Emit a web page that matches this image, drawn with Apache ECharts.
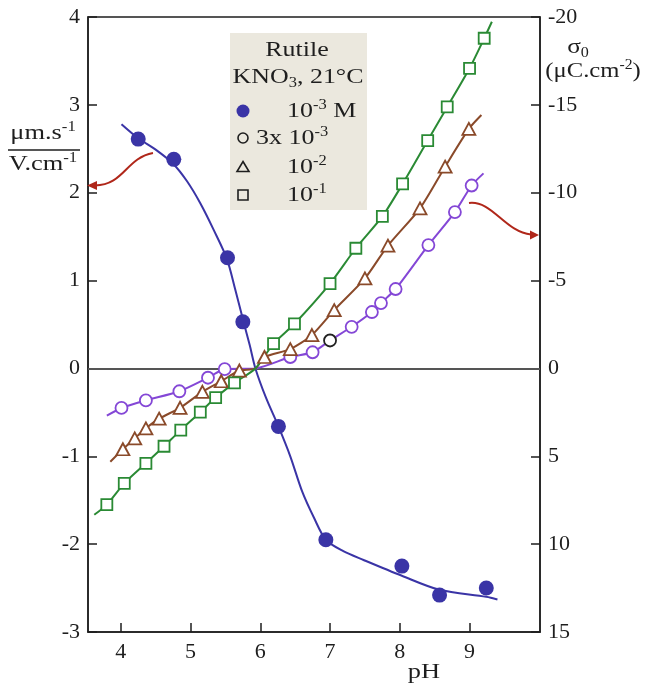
<!DOCTYPE html>
<html>
<head>
<meta charset="utf-8">
<script src="https://cdn.jsdelivr.net/npm/echarts@6/dist/echarts.min.js"></script>
<style>
html,body{margin:0;padding:0;background:#fff;}
#c{width:647px;height:683px;}
</style>
</head>
<body>
<div id="c"></div>
<script>
// ---------- data ----------
const phTicks = [4, 5, 6, 7, 8, 9];

// 10^-3 M : electrophoretic mobility (filled circles, left axis)
const mobPH  = [4.25, 4.76, 5.53, 5.75, 6.26, 6.94, 8.03, 8.57, 9.24];
const mobVal = [2.61, 2.38, 1.26, 0.53, -0.66, -1.95, -2.25, -2.58, -2.50];
// mobility fitted curve
const mobFitPH  = [4.01, 4.25, 4.50, 4.75, 4.95, 5.14, 5.33, 5.52, 5.64, 5.76, 5.85, 5.93, 6.08, 6.26, 6.43, 6.60, 6.77, 6.94, 7.19, 7.48, 8.03, 8.57, 9.24, 9.40];
const mobFitVal = [2.78, 2.62, 2.49, 2.33, 2.13, 1.88, 1.58, 1.25, 0.90, 0.53, 0.26, 0.00, -0.33, -0.66, -1.00, -1.40, -1.70, -1.95, -2.08, -2.18, -2.36, -2.52, -2.60, -2.63];

// common intersection point of the surface charge curves
const cipPH = 5.93, cipVal = 0;

// 10^-3 M : surface charge (open purple circles, right axis)
const s1PH  = [4.01, 4.36, 4.84, 5.25, 5.49, 6.43, 6.75, 7.31, 7.60, 7.73, 7.94, 8.41, 8.79, 9.03];
const s1Val = [2.25, 1.82, 1.30, 0.53, 0.04, -0.65, -0.92, -2.37, -3.21, -3.72, -4.52, -7.02, -8.90, -10.41];
const s1Start = [3.80, 2.69], s1End = [9.20, -11.10];

// 3x10^-3 M : surface charge (open black circle)
const s2PH  = [7.00];
const s2Val = [-1.59];

// 10^-2 M : surface charge (open triangles)
const s3PH  = [4.03, 4.20, 4.36, 4.55, 4.85, 5.17, 5.44, 5.70, 6.06, 6.43, 6.74, 7.06, 7.50, 7.83, 8.29, 8.65, 8.99];
const s3Val = [4.60, 3.98, 3.41, 2.86, 2.24, 1.33, 0.73, 0.12, -0.65, -1.10, -1.90, -3.32, -5.12, -6.99, -9.11, -11.48, -13.63];
const s3Start = [3.85, 5.31], s3End = [9.17, -14.42];

// 10^-1 M : surface charge (open squares)
const s4PH  = [3.80, 4.05, 4.36, 4.62, 4.86, 5.14, 5.36, 5.63, 6.19, 6.49, 7.00, 7.37, 7.75, 8.04, 8.40, 8.68, 9.00, 9.21];
const s4Val = [7.75, 6.54, 5.40, 4.43, 3.51, 2.49, 1.66, 0.82, -1.41, -2.54, -4.83, -6.84, -8.65, -10.50, -12.97, -14.88, -17.08, -18.79];
const s4Start = [3.62, 8.33], s4End = [9.32, -19.73];

// ---------- helpers ----------
const zip = (xs, ys) => xs.map((x, i) => [x, ys[i]]);
function curve(start, xs, ys, end, extra) {
  const pts = zip(xs, ys).concat(extra || []);
  pts.push(start, end);
  pts.sort((a, b) => a[0] - b[0]);
  return pts;
}

const F = '"Liberation Serif", "Times New Roman", serif';
const INK = '#1e1e1e';
const BLUE = '#3a34a6';
const PURPLE = '#8447d6';
const BROWN = '#8a4a2a';
const GREEN = '#2a8a34';
const RED = '#b0271a';

const rich = {
  n:   {fontFamily: F, fontSize: 22, fill: INK, color: INK, lineHeight: 26},
  s:   {fontFamily: F, fontSize: 14, fill: INK, color: INK, lineHeight: 14, verticalAlign: 'top'},
  sub: {fontFamily: F, fontSize: 14, fill: INK, color: INK, lineHeight: 14, verticalAlign: 'bottom'}
};
function rtext(x, y, text, align, sx) {
  return {
    type: 'text', x: x, y: y, z: 100, scaleX: sx || 1.18, scaleY: 1,
    style: {
      text: text, rich: rich, fontFamily: F, fontSize: 22, fill: INK,
      align: align || 'left', verticalAlign: 'middle',
      textAlign: align || 'left', textVerticalAlign: 'middle'
    }
  };
}

const chart = echarts.init(document.getElementById('c'), null, {renderer: 'canvas'});

const axisLbl = {fontFamily: F, fontSize: 22, color: INK};

const option = {
  animation: false,
  backgroundColor: '#fff',
  grid: {left: 88, right: 107, top: 17, bottom: 51, show: true, borderColor: INK, borderWidth: 1.5, backgroundColor: 'transparent'},
  xAxis: {
    type: 'value', min: 3.53, max: 10.01,
    axisLine: {show: true, onZero: false, lineStyle: {color: INK, width: 1.5}},
    axisTick: {show: true, inside: true, length: 9, customValues: phTicks, lineStyle: {color: INK, width: 1.5}},
    axisLabel: Object.assign({margin: 9, customValues: phTicks,
      formatter: v => (Number.isInteger(v) && v >= 4 && v <= 9) ? String(v) : ''}, axisLbl),
    splitLine: {show: false}
  },
  yAxis: [
    {
      type: 'value', position: 'left', min: -3, max: 4, interval: 1,
      axisLine: {show: true, onZero: false, lineStyle: {color: INK, width: 1.5}},
      axisTick: {show: true, inside: true, length: 9, lineStyle: {color: INK, width: 1.5}},
      axisLabel: Object.assign({margin: 8}, axisLbl),
      splitLine: {show: false}
    },
    {
      type: 'value', position: 'right', min: -20, max: 15, interval: 5, inverse: true,
      axisLine: {show: true, onZero: false, lineStyle: {color: INK, width: 1.5}},
      axisTick: {show: true, inside: true, length: 9, lineStyle: {color: INK, width: 1.5}},
      axisLabel: Object.assign({margin: 8}, axisLbl),
      splitLine: {show: false}
    }
  ],
  series: [
    {
      name: 'mobility fit', type: 'line', yAxisIndex: 0, smooth: 0.3, showSymbol: false, symbol: 'none',
      data: zip(mobFitPH, mobFitVal), lineStyle: {color: BLUE, width: 2}, z: 3,
      markLine: {
        silent: true, symbol: 'none', label: {show: false},
        lineStyle: {color: '#555', width: 2, type: 'solid'},
        data: [{yAxis: 0}], z: 1
      }
    },
    {
      name: '10-3 M', type: 'scatter', yAxisIndex: 0, symbol: 'circle', symbolSize: 15,
      data: zip(mobPH, mobVal), itemStyle: {color: BLUE, opacity: 1}, z: 10
    },
    {
      name: 's1 curve', type: 'line', yAxisIndex: 1, smooth: 0.25, showSymbol: false, symbol: 'none',
      data: curve(s1Start, s1PH, s1Val, s1End, [[cipPH, cipVal], [s2PH[0], s2Val[0]]]),
      lineStyle: {color: PURPLE, width: 2}, z: 4
    },
    {
      name: 's1', type: 'scatter', yAxisIndex: 1, symbol: 'circle', symbolSize: 12,
      data: zip(s1PH, s1Val), itemStyle: {color: '#fff', borderColor: PURPLE, borderWidth: 1.8, opacity: 1}, z: 9
    },
    {
      name: '3x10-3', type: 'scatter', yAxisIndex: 1, symbol: 'circle', symbolSize: 12,
      data: zip(s2PH, s2Val), itemStyle: {color: '#fff', borderColor: '#222', borderWidth: 1.8, opacity: 1}, z: 9
    },
    {
      name: 's3 curve', type: 'line', yAxisIndex: 1, smooth: 0.25, showSymbol: false, symbol: 'none',
      data: curve(s3Start, s3PH, s3Val, s3End, [[cipPH, cipVal]]),
      lineStyle: {color: BROWN, width: 2}, z: 4
    },
    {
      name: '10-2', type: 'scatter', yAxisIndex: 1, symbol: 'triangle', symbolSize: [13, 12],
      data: zip(s3PH, s3Val), itemStyle: {color: '#fff', borderColor: BROWN, borderWidth: 1.8, opacity: 1}, z: 9
    },
    {
      name: 's4 curve', type: 'line', yAxisIndex: 1, smooth: 0.25, showSymbol: false, symbol: 'none',
      data: curve(s4Start, s4PH, s4Val, s4End, [[cipPH, cipVal]]),
      lineStyle: {color: GREEN, width: 2}, z: 4
    },
    {
      name: '10-1', type: 'scatter', yAxisIndex: 1, symbol: 'rect', symbolSize: 11,
      data: zip(s4PH, s4Val), itemStyle: {color: '#fff', borderColor: GREEN, borderWidth: 1.8, opacity: 1}, z: 9
    }
  ],
  graphic: [
    // legend box
    {type: 'rect', z: 90, shape: {x: 230, y: 33, width: 137, height: 177}, style: {fill: '#ebe8de', stroke: 'none'}},
    rtext(297, 50, '{n|Rutile}', 'center'),
    rtext(298, 77, '{n|KNO}{sub|3}{n|, 21°C}', 'center'),
    {type: 'circle', z: 100, shape: {cx: 243, cy: 111, r: 6.5}, style: {fill: BLUE}},
    rtext(287, 111, '{n|10}{s|-3}{n| M}'),
    {type: 'circle', z: 100, shape: {cx: 243, cy: 138, r: 5}, style: {fill: 'none', stroke: INK, lineWidth: 1.6}},
    rtext(256, 138, '{n|3x 10}{s|-3}'),
    {type: 'polygon', z: 100, shape: {points: [[243, 161.5], [249, 171.5], [237, 171.5]]}, style: {fill: 'none', stroke: INK, lineWidth: 1.6}},
    rtext(287, 167, '{n|10}{s|-2}'),
    {type: 'rect', z: 100, shape: {x: 238, y: 190, width: 10, height: 10}, style: {fill: 'none', stroke: INK, lineWidth: 1.6}},
    rtext(287, 195, '{n|10}{s|-1}'),

    // left axis title
    rtext(43, 133, '{n|μm.s}{s|-1}', 'center', 1.2),
    {type: 'line', z: 100, shape: {x1: 8, y1: 150, x2: 80, y2: 150}, style: {stroke: INK, lineWidth: 1.5}},
    rtext(43, 164, '{n|V.cm}{s|-1}', 'center', 1.2),

    // right axis title
    rtext(578, 47, '{n|σ}{sub|0}', 'center', 1.15),
    rtext(593, 71, '{n|(μC.cm}{s|-2}{n|)}', 'center', 1.12),

    // x axis name
    rtext(424, 672, '{n|pH}', 'center', 1.2),

    // red arrows
    {type: 'bezierCurve', z: 100, shape: {x1: 153, y1: 153, cpx1: 126, cpy1: 158, cpx2: 124, cpy2: 185, x2: 95, y2: 185.5},
      style: {stroke: RED, lineWidth: 2, fill: 'none'}},
    {type: 'polygon', z: 100, shape: {points: [[87, 185.5], [97, 181], [97, 190]]}, style: {fill: RED}},
    {type: 'bezierCurve', z: 100, shape: {x1: 469, y1: 203, cpx1: 492, cpy1: 200, cpx2: 505, cpy2: 232, x2: 531, y2: 234.5},
      style: {stroke: RED, lineWidth: 2, fill: 'none'}},
    {type: 'polygon', z: 100, shape: {points: [[539, 235], [530, 230.5], [530, 239.5]]}, style: {fill: RED}}
  ]
};
chart.setOption(option);
</script>
</body>
</html>
